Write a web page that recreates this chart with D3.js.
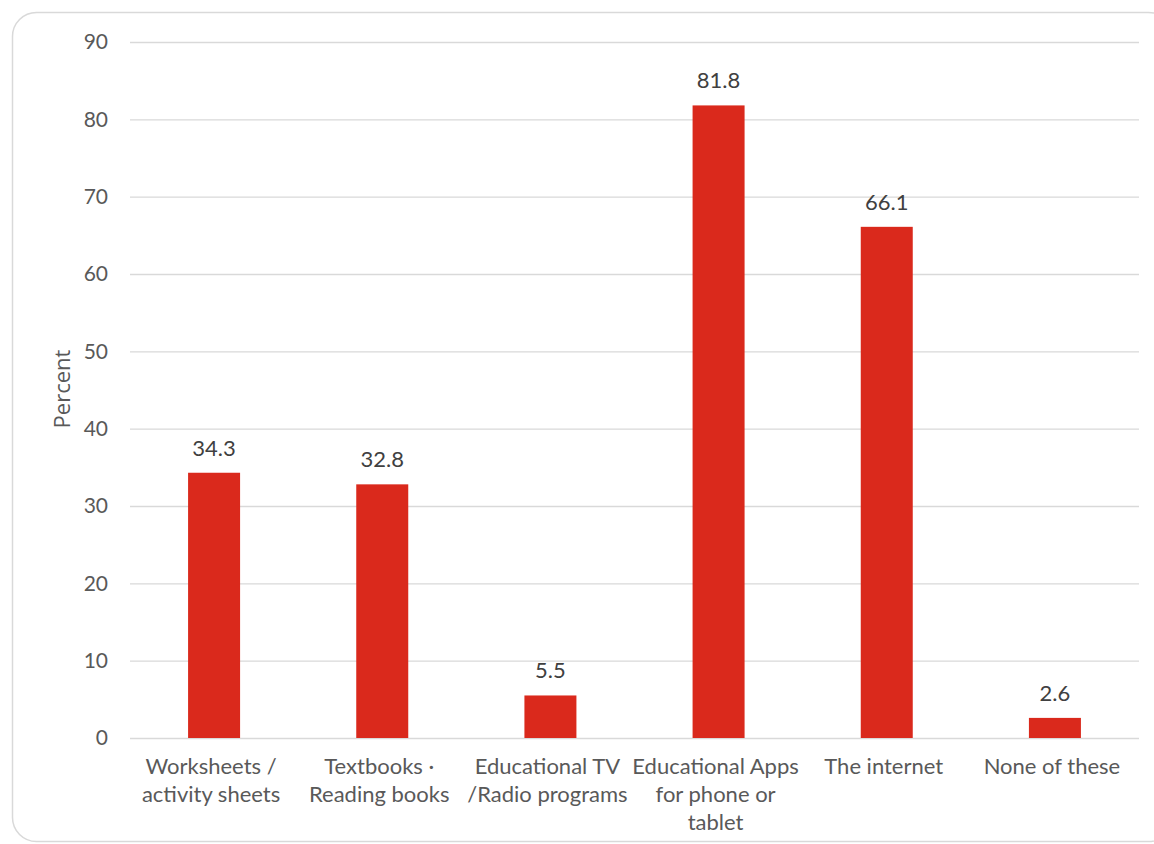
<!DOCTYPE html>
<html><head><meta charset="utf-8">
<script src="https://cdn.jsdelivr.net/npm/d3@7"></script>
<style>body{margin:0;background:#fff;} svg{display:block;}</style>
</head><body>
<svg id="chart" width="1154" height="844"></svg>
<script>
const categories = [
  ["Worksheets /", "activity sheets"],
  ["Textbooks \u00b7", "Reading books"],
  ["Educational TV", "/Radio programs"],
  ["Educational Apps", "for phone or", "tablet"],
  ["The internet"],
  ["None of these"]
];
const values = [34.3, 32.8, 5.5, 81.8, 66.1, 2.6];
const yTicks = [0, 10, 20, 30, 40, 50, 60, 70, 80, 90];
const yTitle = "Percent";

(function () {
const FONT = "Lato, 'Open Sans', sans-serif";
const svg = d3.select("#chart");
svg.append("rect").attr("x", 12.5).attr("y", 12.5).attr("width", 1160).attr("height", 829)
  .attr("rx", 24).attr("fill", "#fff").attr("stroke", "#d9d9d9").attr("stroke-width", 1.5);

const mLeft = 130, mRight = 1139, mTop = 42, mBottom = 738;
const x = d3.scaleBand().domain(d3.range(categories.length)).range([mLeft, mRight]).paddingInner(0.69).paddingOuter(0.345);
const y = d3.scaleLinear().domain([0, 90]).range([mBottom, mTop]);

const g = svg.append("g");
g.append("g").attr("transform", `translate(${mLeft},0)`)
  .call(d3.axisLeft(y).tickValues(yTicks).tickSize(-(mRight - mLeft)).tickPadding(22).tickFormat(d3.format("d")))
  .call(a => a.select(".domain").remove())
  .call(a => a.selectAll(".tick line").attr("stroke", "#d9d9d9").attr("stroke-width", 1.3))
  .call(a => a.selectAll(".tick text").attr("fill", "#595959").attr("font-size", 21).attr("font-family", FONT));

const bw = 52;
g.selectAll("rect.bar").data(values).join("rect").attr("class", "bar")
  .attr("x", (d, i) => x(i) + x.bandwidth() / 2 - bw / 2)
  .attr("width", bw)
  .attr("y", d => y(d))
  .attr("height", d => y(0) - y(d))
  .attr("fill", "#DA291C");

g.selectAll("text.val").data(values).join("text").attr("class", "val")
  .attr("x", (d, i) => x(i) + x.bandwidth() / 2)
  .attr("y", d => y(d) - 17)
  .attr("text-anchor", "middle").attr("font-family", FONT).attr("font-size", 22).attr("fill", "#404040")
  .text(d => d.toFixed(1));

const xl = g.selectAll("text.cat").data(categories).join("text").attr("class", "cat")
  .attr("text-anchor", "middle").attr("font-family", FONT).attr("font-size", 22).attr("fill", "#595959");
xl.each(function (lines, i) {
  const t = d3.select(this);
  lines.forEach((ln, j) => {
    t.append("tspan").attr("x", x(i) + x.bandwidth() / 2 - 3).attr("y", 774 + j * 28).text(ln);
  });
});

svg.append("text").attr("transform", "translate(70,389) rotate(-90)")
  .attr("text-anchor", "middle").attr("font-family", "'Open Sans', sans-serif").attr("font-size", 22).attr("fill", "#595959")
  .text(yTitle);
})();
</script>
</body></html>
